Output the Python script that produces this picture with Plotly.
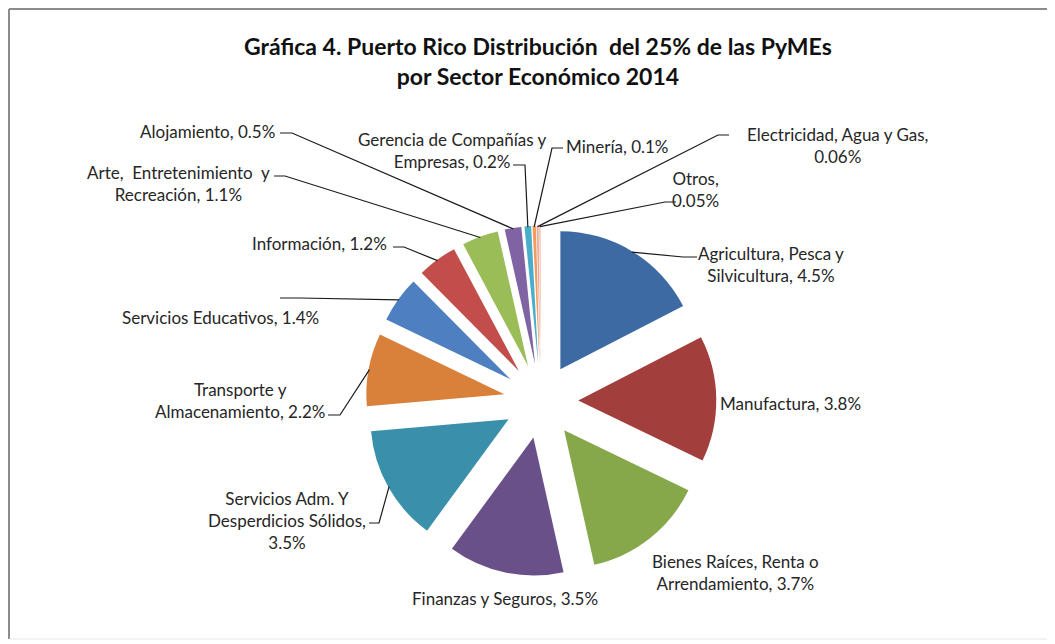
import math
import plotly.graph_objects as go

# ---------------- data ----------------
sectors = [
    "Agricultura, Pesca y Silvicultura", "Manufactura",
    "Bienes Raíces, Renta o Arrendamiento", "Finanzas y Seguros",
    "Servicios Adm. Y Desperdicios Sólidos", "Transporte y Almacenamiento",
    "Servicios Educativos", "Información", "Arte, Entretenimiento y Recreación",
    "Alojamiento", "Gerencia de Compañías y Empresas", "Minería",
    "Electricidad, Agua y Gas", "Otros",
]
values = [4.5, 3.8, 3.7, 3.5, 3.5, 2.2, 1.4, 1.2, 1.1, 0.5, 0.2, 0.1, 0.06, 0.05]
label_templates = [
    "Agricultura, Pesca y<br>Silvicultura, {p}", "Manufactura, {p}",
    "Bienes Raíces, Renta o<br>Arrendamiento, {p}", "Finanzas y Seguros, {p}",
    "Servicios Adm. Y<br>Desperdicios Sólidos,<br>{p}", "Transporte y<br>Almacenamiento, {p}",
    "Servicios Educativos, {p}", "Información, {p}",
    "Arte,  Entretenimiento  y<br>Recreación, {p}", "Alojamiento, {p}",
    "Gerencia de Compañías y<br>Empresas, {p}", "Minería, {p}",
    "Electricidad, Agua y Gas,<br>{p}", "Otros,<br>{p}",
]
title_lines = ["Gráfica 4. Puerto Rico Distribución  del 25% de las PyMEs",
               "por Sector Económico 2014"]

# ---------------- styling / layout ----------------
colors = ["#3E6AA3", "#A23E3B", "#86A84B", "#6A5089", "#3A90AA", "#D9803A",
          "#4D7FC1", "#C24D4A", "#9BBD58", "#7F63A3", "#49AEC9", "#F39A5C",
          "#E9A89A", "#F2C4B0"]
OFF = 8                       # default page body margin
W, H = 1055 - OFF, 644 - OFF  # figure size
CX, CY, R, PULL = 541, 401, 138, 0.27   # page-pixel geometry of the pie
FONT = "Lato"
TXT = "#262626"

# label placement (page pixels): text centre, xanchor, leader anchor & elbow (or None)
label_pos = [
    (771, 264, "center", (697, 257), (683, 257)),
    (718, 403, "left", None, None),
    (735, 572, "center", None, None),
    (505, 598, "center", None, None),
    (287, 520, "center", (369, 523), (379, 523)),
    (240, 400, "center", (328, 415), (340, 415)),
    (220, 317, "center", (280, 298), (300, 298)),
    (319, 244, "center", (393, 247), (404, 247)),
    (178, 184, "center", (274, 176), (285, 176)),
    (207, 131, "center", (280, 133), (292, 133)),
    (452, 150, "center", (513, 165), (525, 165)),
    (617, 146, "center", (563, 148), (552, 148)),
    (837, 145, "center", (729, 135), (718, 135)),
    (696, 189, "center", (676, 202), (665, 202)),
]


def px(x):
    return (x - OFF) / W


def py(y):
    return 1 - (y - OFF) / H


half = R * (1 + PULL)
fig = go.Figure(go.Pie(
    labels=sectors, values=values, sort=False, direction="clockwise",
    rotation=0, pull=[PULL] * len(values), textinfo="none",
    marker=dict(colors=colors, line=dict(width=0)),
    domain=dict(x=[px(CX - half), px(CX + half)], y=[py(CY + half), py(CY - half)]),
    showlegend=False, hoverinfo="label+value",
))

total = sum(values)
annotations = []
shapes = []
cum = 0.0
for i, v in enumerate(values):
    theta = 2 * math.pi * (cum + v / 2) / total
    cum += v
    tx, ty, xa, anchor, elbow = label_pos[i]
    text = label_templates[i].format(p=f"{v:g}%")
    annotations.append(dict(
        x=px(tx), y=py(ty), xref="paper", yref="paper", text=text,
        showarrow=False, xanchor=xa, yanchor="middle", align="center",
        font=dict(family=FONT, size=17, color=TXT)))
    if anchor is not None:
        rr = (1 + PULL) * R * 0.995
        sx = CX + rr * math.sin(theta)
        sy = CY - rr * math.cos(theta)
        path = (f"M {px(sx)},{py(sy)} L {px(elbow[0])},{py(elbow[1])} "
                f"L {px(anchor[0])},{py(anchor[1])}")
        shapes.append(dict(type="path", path=path, xref="paper", yref="paper",
                           line=dict(color="#1a1a1a", width=1.2)))

annotations.append(dict(
    x=px(538), y=py(61), xref="paper", yref="paper",
    text="<b>" + title_lines[0] + "</b><br><b>" + title_lines[1] + "</b>",
    showarrow=False, xanchor="center", yanchor="middle", align="center",
    font=dict(family=FONT, size=23, color="#111111")))

# chart frame
shapes += [
    dict(type="line", xref="paper", yref="paper", x0=px(9), x1=px(9), y0=py(9), y1=py(639),
         line=dict(color="#8c8c8c", width=2)),
    dict(type="line", xref="paper", yref="paper", x0=px(9), x1=1, y0=py(9), y1=py(9),
         line=dict(color="#8c8c8c", width=2)),
    dict(type="line", xref="paper", yref="paper", x0=px(9), x1=1, y0=py(639), y1=py(639),
         line=dict(color="#e6e6e6", width=1)),
]

fig.update_layout(
    width=W, height=H, margin=dict(l=0, r=0, t=0, b=0),
    paper_bgcolor="white", plot_bgcolor="white",
    annotations=annotations, shapes=shapes,
)
fig.write_html("out.html")
